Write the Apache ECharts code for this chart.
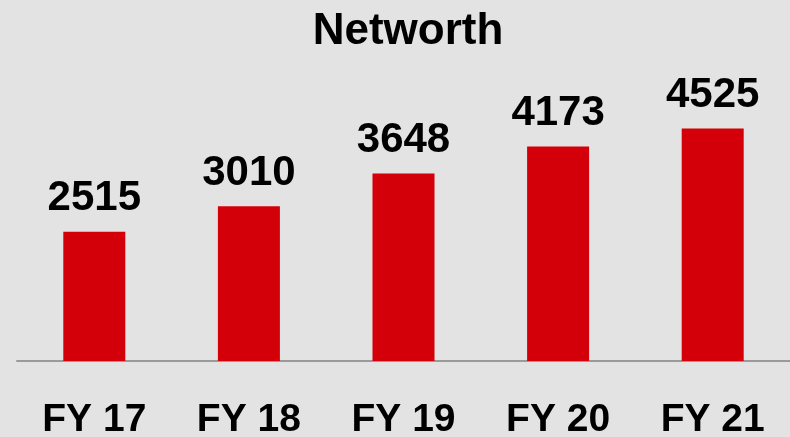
<!DOCTYPE html>
<html lang="en">
<head>
    <meta charset="UTF-8" />
    <title>Networth</title>
    <script src="https://cdn.jsdelivr.net/npm/echarts@6/dist/echarts.min.js"></script>
    <style>
        body { margin: 0; background: #e3e3e3; }
    </style>
</head>
<body>
    <div id="main" style="width: 790px; height: 437px"></div>
    <script>
        var years = ["FY 17", "FY 18", "FY 19", "FY 20", "FY 21"];
        var networth = [2515, 3010, 3648, 4173, 4525];

        var myChart = echarts.init(document.getElementById("main"));

        var option = {
            backgroundColor: "#e3e3e3",
            textStyle: { fontFamily: "Liberation Sans" },
            title: {
                text: "Networth",
                left: 403,
                top: 5,
                textAlign: "center",
                textStyle: {
                    fontSize: 44,
                    fontWeight: "bold",
                    color: "#000",
                    fontFamily: "Liberation Sans"
                }
            },
            grid: {
                left: 17,
                right: 0,
                top: 104,
                bottom: 76,
                containLabel: false,
                outerBoundsMode: "none"
            },
            xAxis: {
                type: "category",
                data: years,
                axisTick: { show: false },
                axisLine: { lineStyle: { color: "#9a9a9a", width: 2 } },
                axisLabel: {
                    margin: 40,
                    fontSize: 39,
                    fontWeight: "bold",
                    color: "#000"
                }
            },
            yAxis: {
                type: "value",
                min: 0,
                max: 5000,
                show: false,
                splitLine: { show: false }
            },
            series: [
                {
                    name: "Networth",
                    type: "bar",
                    data: networth,
                    barWidth: 62,
                    itemStyle: { color: "#d40009" },
                    label: {
                        show: true,
                        position: "top",
                        distance: 12,
                        fontSize: 42,
                        fontWeight: "bold",
                        color: "#000"
                    }
                }
            ]
        };
        myChart.setOption(option);
    </script>
</body>
</html>
